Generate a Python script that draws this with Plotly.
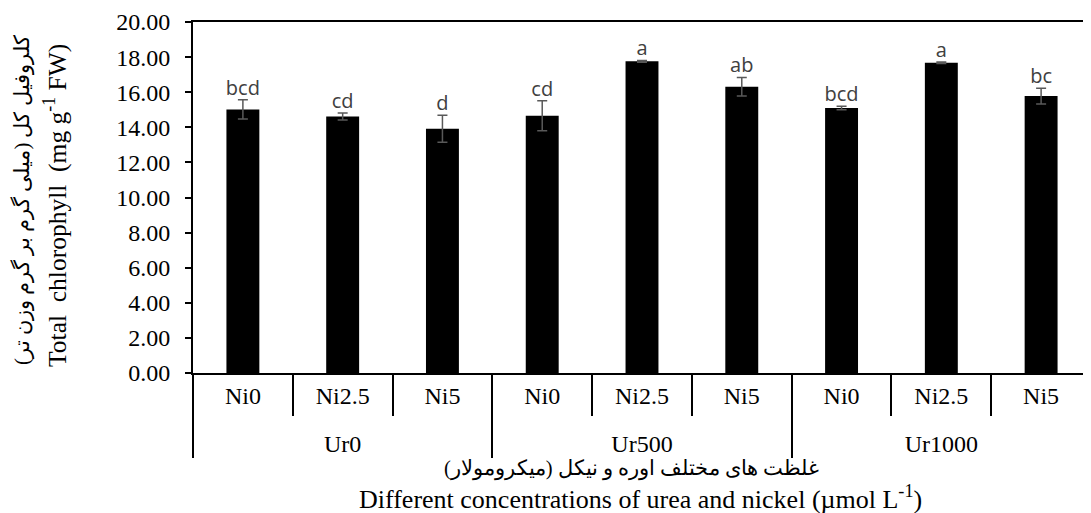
import plotly.graph_objects as go

urea = ["Ur0", "Ur0", "Ur0", "Ur500", "Ur500", "Ur500", "Ur1000", "Ur1000", "Ur1000"]
nickel = ["Ni0", "Ni2.5", "Ni5", "Ni0", "Ni2.5", "Ni5", "Ni0", "Ni2.5", "Ni5"]
chlorophyll = [15.02, 14.61, 13.92, 14.66, 17.76, 16.31, 15.10, 17.68, 15.78]
errors = [0.55, 0.20, 0.77, 0.85, 0.05, 0.53, 0.10, 0.04, 0.45]
letters = ["bcd", "cd", "d", "cd", "a", "ab", "bcd", "a", "bc"]

serif = "Liberation Serif, Times New Roman, serif"

# page body has an 8px margin; figure is sized so the plot lands where the reference has it
W, H = 1083, 505
L, R, T, B = 185, 0, 14, 140
PW, PH = W - L - R, H - T - B


def px(X):
    return (X - 8 - L) / PW


def py(Y):
    return (H - B - (Y - 8)) / PH


# inner labels get an invisible extra (raised) line so the outer group labels sit lower
nickel_lbl = [n + "<br><sup> </sup>" for n in nickel]
xcats = [urea, nickel_lbl]

fig = go.Figure()
fig.add_trace(go.Bar(
    x=xcats, y=chlorophyll, width=0.33,
    marker=dict(color="black", line=dict(width=0)),
    error_y=dict(type="data", array=errors, color="#595959", thickness=1.5, width=5),
    showlegend=False,
))
fig.add_trace(go.Scatter(
    x=xcats, y=[v + e for v, e in zip(chlorophyll, errors)],
    mode="text", text=letters, textposition="top center",
    textfont=dict(family="Open Sans, Liberation Sans, sans-serif", size=20, color="#404040"),
    showlegend=False, cliponaxis=False,
))

fig.update_layout(
    width=W, height=H,
    margin=dict(l=L, r=R, t=T, b=B, autoexpand=False),
    paper_bgcolor="white", plot_bgcolor="white",
    font=dict(family=serif, size=24, color="black"),
    xaxis=dict(
        type="multicategory",
        showline=True, linecolor="black", linewidth=2, mirror=True,
        ticks="outside", tickson="boundaries", ticklen=41, tickcolor="black", tickwidth=2,
        showdividers=True, dividercolor="black", dividerwidth=2,
        tickfont=dict(family=serif, size=24, color="black"),
        showgrid=False, automargin=False,
    ),
    yaxis=dict(
        range=[0, 20], dtick=2, tickformat=".2f",
        showline=True, linecolor="black", linewidth=2, mirror=True,
        ticks="outside", ticklen=6, tickcolor="black", tickwidth=2,
        ticklabelstandoff=10,
        showgrid=False, zeroline=False, automargin=False,
        tickfont=dict(family=serif, size=24, color="black"),
    ),
    annotations=[
        dict(text="کلروفیل کل (میلی گرم بر گرم وزن تر)", xref="paper", yref="paper",
             x=px(22), y=py(200), xanchor="center", yanchor="middle",
             textangle=-90, showarrow=False,
             font=dict(family=serif, size=20.5, color="black")),
        dict(text="Total  chlorophyll  (mg g<sup>-1</sup> FW)", xref="paper", yref="paper",
             x=px(55), y=py(206), xanchor="center", yanchor="middle",
             textangle=-90, showarrow=False,
             font=dict(family=serif, size=25.5, color="black")),
        dict(text="غلظت های مختلف اوره و نیکل (میکرومولار)", xref="paper", yref="paper",
             x=px(631), y=py(469), xanchor="center", yanchor="middle", showarrow=False,
             font=dict(family=serif, size=20.5, color="black")),
        dict(text="Different concentrations of urea and nickel (µmol L<sup>-1</sup>)", xref="paper", yref="paper",
             x=px(640), y=py(497), xanchor="center", yanchor="middle", showarrow=False,
             font=dict(family=serif, size=26, color="black")),
    ],
)

fig.write_html("out.html")
